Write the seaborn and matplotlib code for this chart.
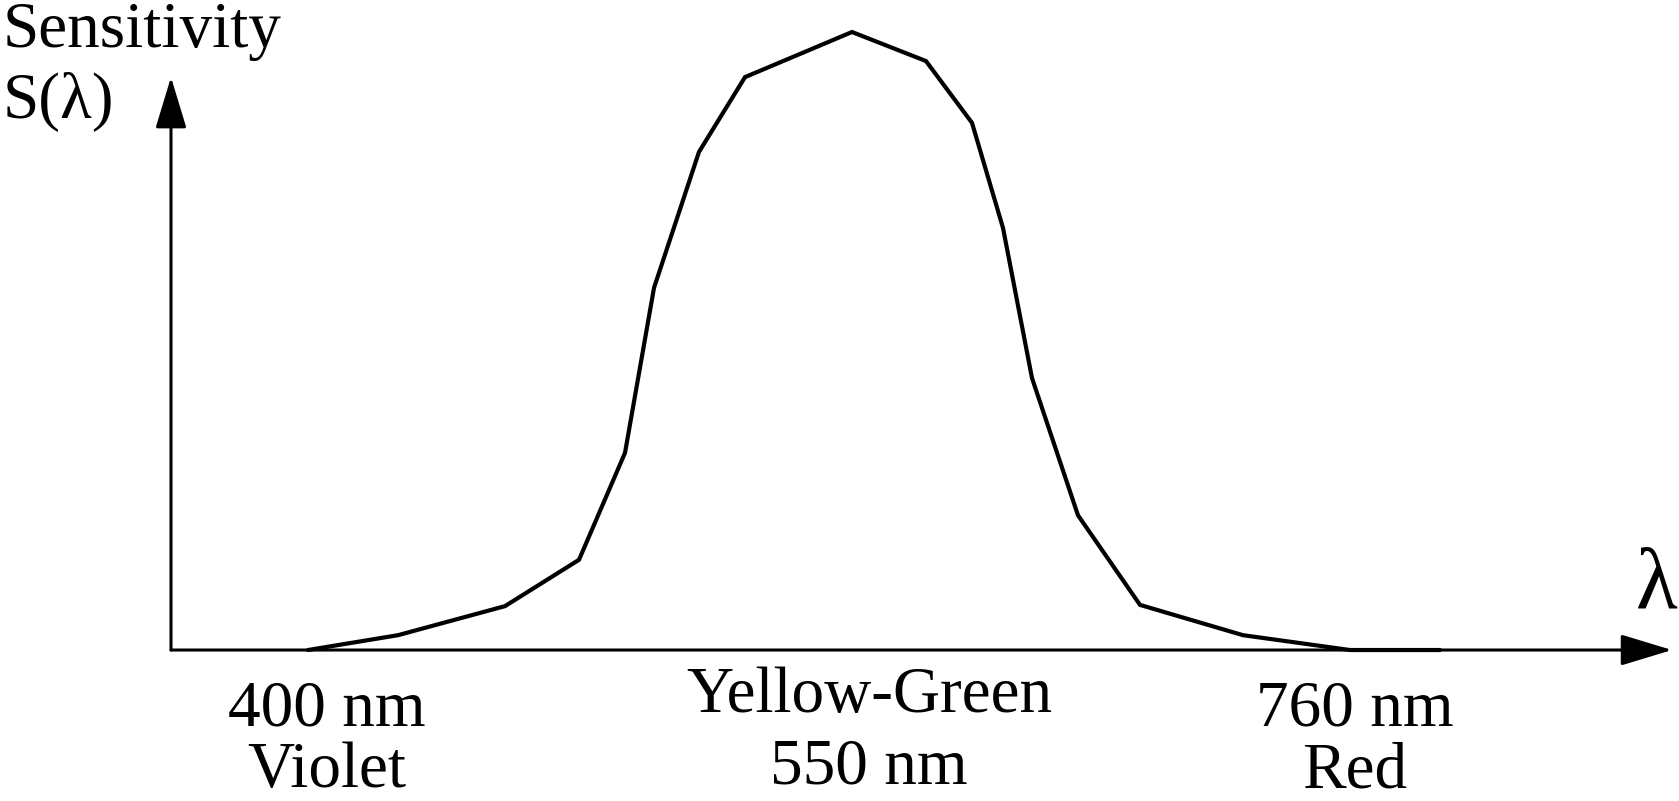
import matplotlib
matplotlib.use("Agg")
import matplotlib.pyplot as plt
import seaborn as sns
import pandas as pd

# ---- data (schematic spectral sensitivity curve, arbitrary units) ----
position = [13.7, 22.7, 33.4, 40.8, 45.4, 48.3, 52.8, 57.4, 68.1,
            75.5, 80.1, 83.2, 86.1, 90.7, 96.9, 107.2, 117.9, 126.9]
sensitivity = [0.0, 0.024, 0.071, 0.146, 0.319, 0.586, 0.806, 0.927, 1.0,
               0.953, 0.853, 0.683, 0.440, 0.218, 0.073, 0.024, 0.0, 0.0]

y_label_lines = ["Sensitivity", "S(λ)"]
x_axis_symbol = "λ"
bottom_labels = [("400 nm", "Violet"), ("Yellow-Green", "550 nm"), ("760 nm", "Red")]

W, H = 1679, 801
DPI = 100

sns.set_theme(style="white")
plt.rcParams["font.family"] = ["Liberation Serif", "DejaVu Serif"]
plt.rcParams["text.color"] = "black"

fig = plt.figure(figsize=(W / DPI, H / DPI), dpi=DPI)
ax = fig.add_axes([0, 0, 1, 1])
ax.set_xlim(-17.1, 150.8)
ax.set_ylim(-0.2443, 1.0518)
ax.axis("off")

df = pd.DataFrame({"position": position, "sensitivity": sensitivity})
sns.lineplot(data=df, x="position", y="sensitivity", ax=ax, color="black",
             lw=3.0, sort=False, estimator=None)
ax.lines[-1].set_solid_joinstyle("miter")

arrow_style = "-|>,head_length=3.2,head_width=0.97"
ax.annotate("", xy=(0, 0.927), xytext=(0, 0),
            arrowprops=dict(arrowstyle=arrow_style, mutation_scale=10,
                            color="black", lw=2.2, shrinkA=0, shrinkB=0))
ax.annotate("", xy=(150.1, 0), xytext=(0, 0),
            arrowprops=dict(arrowstyle=arrow_style, mutation_scale=10,
                            color="black", lw=2.2, shrinkA=0, shrinkB=0))

def ftext(px, py, s, **kw):
    fig.text(px / W, 1 - py / H, s, color="black", **kw)

fs = 47
ftext(3, 47, y_label_lines[0], fontsize=fs, ha="left", va="baseline")
ftext(3, 118, y_label_lines[1], fontsize=fs, ha="left", va="baseline")
ftext(1636, 607, x_axis_symbol, fontsize=62, ha="left", va="baseline")

centers = [327, 869, 1355]
baselines = [(726, 787), (712, 783), (726, 787)]
for cx, (l1, l2), (b1, b2) in zip(centers, bottom_labels, baselines):
    ftext(cx, b1, l1, fontsize=fs, ha="center", va="baseline")
    ftext(cx, b2, l2, fontsize=fs, ha="center", va="baseline")

fig.savefig("out.png", dpi=DPI, facecolor="white")
